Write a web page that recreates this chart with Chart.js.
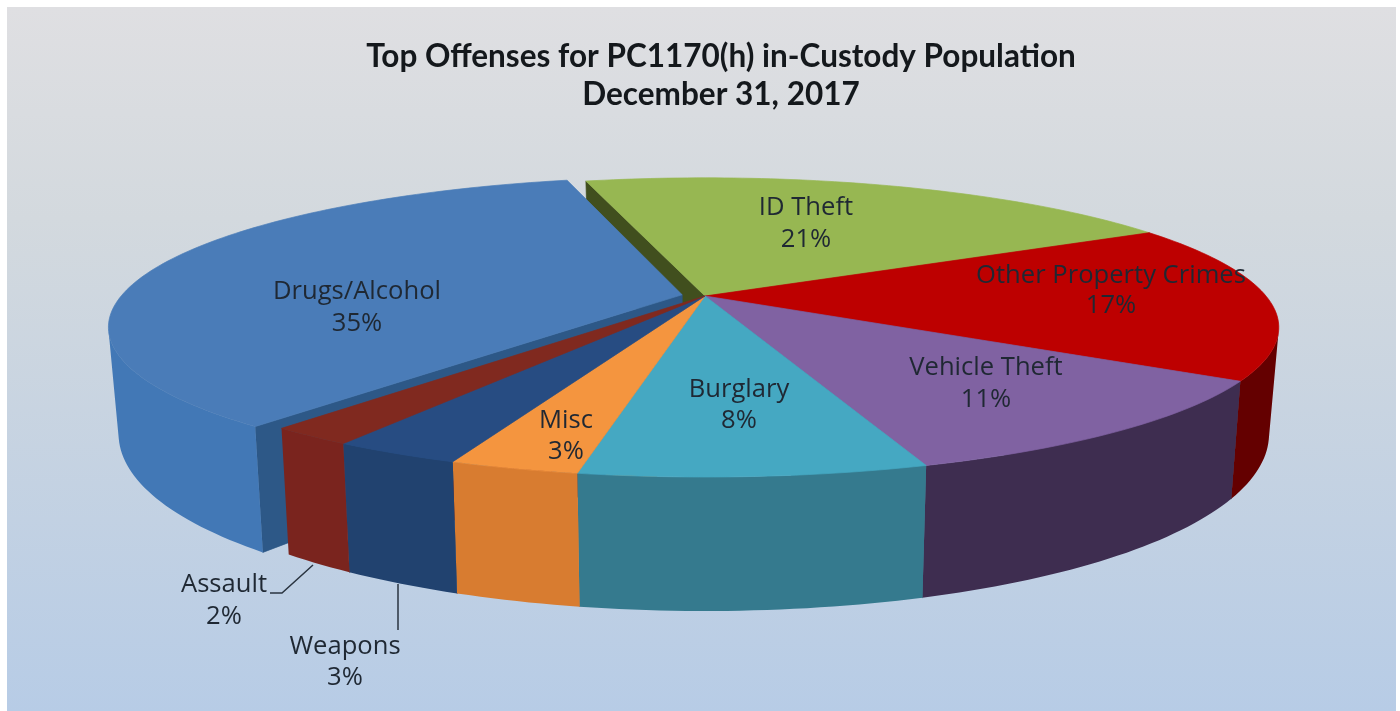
<!DOCTYPE html>
<html>
<head>
<meta charset="utf-8">
<title>Top Offenses</title>
<script src="https://cdn.jsdelivr.net/npm/chart.js@4/dist/chart.umd.min.js"></script>
<style>
html, body { margin: 0; padding: 0; background: #fff; overflow: hidden; }
#wrap { width: 1400px; height: 711px; }
</style>
</head>
<body>
<div id="wrap"><canvas id="myChart" width="1400" height="711"></canvas></div>
<script>
'use strict';
// data
let categories = ['ID Theft', 'Other Property Crimes', 'Vehicle Theft', 'Burglary', 'Misc', 'Weapons', 'Assault', 'Drugs/Alcohol'];
let shares = [21, 17, 11, 8, 3, 3, 2, 35];
let topColors = ['#97b752', '#bd0000', '#8062a2', '#45a8c2', '#f4953f', '#274c82', '#80291f', '#4a7cb8'];
let wallColors = ['#414f1e', '#640000', '#3e2d50', '#357a8e', '#d87c30', '#21426f', '#7a241e', '#4278b6'];
let pulledOut = [0, 0, 0, 0, 0, 0, 0, 12];
let titleLines = ['Top Offenses for PC1170(h) in-Custody Population', 'December 31, 2017'];

// where the flat pie lands on screen (perspective look at a tilted disc)
let pieX = 705, pieY = 296, spreadX = 561, spreadY = 143, tilt = 0.21;
let bottomShrink = 0.983, depthBase = 99, depthFront = 35;
let radialWallColor = '#2d5887';

// label centres, [x, name y, percent y]
let labelPos = [[806, 208, 240], [1111, 276, 306], [986, 368, 400], [739, 390, 421], [566, 421, 452], [345, 647, 678], [224, 585, 617], [357, 292, 324]];

function topPoint(px, pz) {
    let w = 1 / (1 - pz * tilt);
    return [pieX + spreadX * px * w, pieY + spreadY * pz * w];
}
function bottomPoint(px, pz) {
    let p = topPoint(px, pz);
    return [pieX + (p[0] - pieX) * bottomShrink, p[1] + depthBase + depthFront * pz];
}

// plane coordinates of a point of an arc element, r is 0..1 of its radius
function planePoint(arc, angle, r) {
    let mid = (arc.startAngle + arc.endAngle) / 2;
    let pull = arc.options.offset / arc.outerRadius;
    return [r * Math.cos(angle) + pull * Math.cos(mid), r * Math.sin(angle) + pull * Math.sin(mid)];
}

function addPoly(ctx, pts) {
    pts.forEach(function (p, i) {
        if (i === 0) ctx.moveTo(p[0], p[1]);
        else ctx.lineTo(p[0], p[1]);
    });
    ctx.closePath();
}

function paint(ctx, color) {
    ctx.fillStyle = color;
    ctx.fill();
    ctx.strokeStyle = color;
    ctx.lineWidth = 0.7;
    ctx.stroke();
}

function rimAngles(arc) {
    let list = [];
    let steps = Math.ceil((arc.endAngle - arc.startAngle) / 0.02);
    for (let i = 0; i <= steps; i++) {
        list.push(arc.startAngle + (arc.endAngle - arc.startAngle) * i / steps);
    }
    return list;
}

function drawTop(ctx, arc) {
    let pts = [topPoint.apply(null, planePoint(arc, 0, 0))];
    rimAngles(arc).forEach(function (a) {
        pts.push(topPoint.apply(null, planePoint(arc, a, 1)));
    });
    ctx.beginPath();
    addPoly(ctx, pts);
    paint(ctx, arc.options.backgroundColor);
}

// rim wall as small quads in one path, the ones turned away from the viewer are skipped
function drawOuterWall(ctx, arc, color) {
    let angles = rimAngles(arc);
    ctx.beginPath();
    for (let i = 0; i < angles.length - 1; i++) {
        let p0 = planePoint(arc, angles[i], 1), p1 = planePoint(arc, angles[i + 1], 1);
        let quad = [topPoint(p0[0], p0[1]), topPoint(p1[0], p1[1]), bottomPoint(p1[0], p1[1]), bottomPoint(p0[0], p0[1])];
        let area = 0;
        for (let k = 0; k < 4; k++) {
            let a = quad[k], b = quad[(k + 1) % 4];
            area += a[0] * b[1] - b[0] * a[1];
        }
        if (area < 0) addPoly(ctx, quad);
    }
    ctx.fillStyle = color;
    ctx.fill();
}

function drawRadialWall(ctx, arc, angle, color) {
    let c = planePoint(arc, 0, 0), e = planePoint(arc, angle, 1);
    ctx.beginPath();
    addPoly(ctx, [topPoint(c[0], c[1]), topPoint(e[0], e[1]), bottomPoint(e[0], e[1]), bottomPoint(c[0], c[1])]);
    paint(ctx, color);
}

let pie3d = {
    id: 'pie3d',
    beforeDraw: function (chart) {
        let ctx = chart.ctx;
        let g = ctx.createLinearGradient(0, 7, 0, 711);
        g.addColorStop(0, '#dfdfe2');
        g.addColorStop(0.3, '#d3d9de');
        g.addColorStop(1, '#b7cce6');
        ctx.fillStyle = g;
        ctx.fillRect(7, 7, 1389, 704);
    },
    beforeDatasetDraw: function () {
        return false; // the arcs are painted below, in perspective
    },
    afterDatasetsDraw: function (chart) {
        let ctx = chart.ctx;
        let arcs = chart.getDatasetMeta(0).data;
        let pulled = [], stay = [];
        arcs.forEach(function (arc, i) {
            if (arc.options.offset > 0) pulled.push(i);
            else stay.push(i);
        });
        // wall seen through the gap left by the pulled out slice
        stay.forEach(function (i) {
            drawRadialWall(ctx, arcs[i], arcs[i].startAngle, wallColors[i]);
        });
        pulled.forEach(function (i) {
            drawRadialWall(ctx, arcs[i], arcs[i].startAngle, radialWallColor);
            drawOuterWall(ctx, arcs[i], wallColors[i]);
            drawTop(ctx, arcs[i]);
        });
        stay.forEach(function (i) {
            drawOuterWall(ctx, arcs[i], wallColors[i]);
        });
        stay.forEach(function (i) {
            drawTop(ctx, arcs[i]);
        });

        // leader lines for the two small slices
        ctx.strokeStyle = '#2a3440';
        ctx.lineWidth = 1.5;
        ctx.beginPath();
        ctx.moveTo(270, 593);
        ctx.lineTo(282, 593);
        ctx.lineTo(313, 565);
        ctx.moveTo(398, 584);
        ctx.lineTo(398, 630);
        ctx.stroke();

        ctx.fillStyle = '#1f2833';
        ctx.font = '25.6px "Open Sans"';
        ctx.textAlign = 'center';
        ctx.textBaseline = 'middle';
        categories.forEach(function (name, i) {
            ctx.fillText(name, labelPos[i][0], labelPos[i][1]);
            ctx.fillText(shares[i] + '%', labelPos[i][0], labelPos[i][2]);
        });
    }
};

new Chart(document.getElementById('myChart').getContext('2d'), {
    type: 'pie',
    data: {
        labels: categories,
        datasets: [{
            data: shares,
            backgroundColor: topColors,
            offset: pulledOut,
            borderWidth: 0
        }]
    },
    options: {
        responsive: false,
        animation: false,
        rotation: -14.8,
        layout: { padding: { left: 42 } },
        plugins: {
            legend: { display: false },
            tooltip: { enabled: false },
            title: {
                display: true,
                text: titleLines,
                fullSize: false,
                color: '#14181c',
                font: { family: 'Lato', size: 31.5, weight: 'bold', lineHeight: 1.2 },
                padding: { top: 38, bottom: 10 }
            }
        }
    },
    plugins: [pie3d]
});
</script>
</body>
</html>
